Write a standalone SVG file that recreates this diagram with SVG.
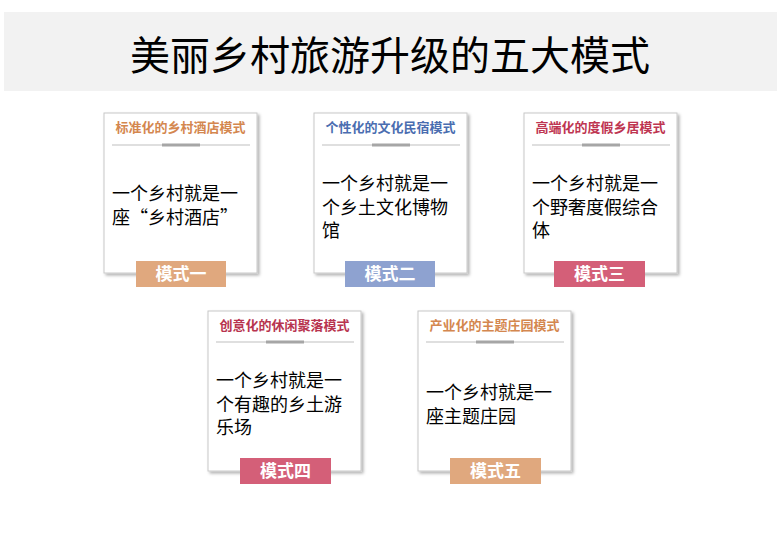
<svg xmlns="http://www.w3.org/2000/svg" width="779" height="540" viewBox="0 0 779 540">
<defs>
<filter id="sh" x="-10%" y="-10%" width="125%" height="125%">
<feDropShadow dx="2" dy="2" stdDeviation="1.5" flood-color="#000" flood-opacity="0.3"/>
</filter>
<style>
.card{fill:#fff;stroke:#C8C8C8;stroke-width:1;filter:url(#sh)}
.hd{font-family:"Noto Sans CJK SC","Noto Sans",sans-serif;font-size:13px;font-weight:bold;text-anchor:middle}
.sep{stroke:#BFBFBF;stroke-width:1}
.bar{fill:#A6A6A6}
.body{font-family:"Noto Sans CJK SC","Noto Sans",sans-serif;font-size:18px;fill:#000}
.bt{font-family:"Noto Sans CJK SC","Noto Sans",sans-serif;font-size:17px;font-weight:bold;fill:#fff;text-anchor:middle}
.title{font-family:"Noto Sans CJK SC","Noto Sans",sans-serif;font-size:40px;fill:#000;text-anchor:middle}
</style>
</defs>
<rect x="4" y="12" width="773" height="79" fill="#F2F2F2"/>
<text class="title" x="390" y="70">美丽乡村旅游升级的五大模式</text>
<g id="connectors"></g>
<g id="card1">
<rect class="card" x="104" y="113" width="153" height="160"/>
<text class="hd" x="180.5" y="132" fill="#D4874F">标准化的乡村酒店模式</text>
<line class="sep" x1="112" y1="145" x2="250" y2="145"/>
<rect class="bar" x="162" y="143.5" width="38" height="3"/>
<text class="body" x="112"><tspan x="112" y="200">一个乡村就是一</tspan><tspan x="112" y="224">座“乡村酒店”</tspan></text>
<rect x="136" y="261" width="90" height="26" fill="#E0A87E"/>
<text class="bt" x="181" y="280">模式一</text>
</g>
<g id="card2">
<rect class="card" x="314" y="113" width="153" height="160"/>
<text class="hd" x="390.5" y="132" fill="#4A6DB0">个性化的文化民宿模式</text>
<line class="sep" x1="322" y1="145" x2="460" y2="145"/>
<rect class="bar" x="372" y="143.5" width="38" height="3"/>
<text class="body"><tspan x="322" y="190">一个乡村就是一</tspan><tspan x="322" y="213.5">个乡土文化博物</tspan><tspan x="322" y="237">馆</tspan></text>
<rect x="345" y="261" width="90" height="26" fill="#8EA2D0"/>
<text class="bt" x="390" y="280">模式二</text>
</g>
<g id="card3">
<rect class="card" x="524" y="113" width="153" height="160"/>
<text class="hd" x="600.5" y="132" fill="#BE3551">高端化的度假乡居模式</text>
<line class="sep" x1="532" y1="145" x2="670" y2="145"/>
<rect class="bar" x="582" y="143.5" width="38" height="3"/>
<text class="body"><tspan x="532" y="190">一个乡村就是一</tspan><tspan x="532" y="213.5">个野奢度假综合</tspan><tspan x="532" y="237">体</tspan></text>
<rect x="554" y="261" width="91" height="26" fill="#D45F78"/>
<text class="bt" x="599.5" y="280">模式三</text>
</g>
<g id="card4">
<rect class="card" x="208" y="311" width="153" height="160"/>
<text class="hd" x="284.5" y="330" fill="#B8344F">创意化的休闲聚落模式</text>
<line class="sep" x1="216" y1="342" x2="354" y2="342"/>
<rect class="bar" x="266" y="340.5" width="38" height="3"/>
<text class="body"><tspan x="216" y="387">一个乡村就是一</tspan><tspan x="216" y="410.5">个有趣的乡土游</tspan><tspan x="216" y="434">乐场</tspan></text>
<rect x="240" y="458" width="91" height="26" fill="#D45F78"/>
<text class="bt" x="285.5" y="477">模式四</text>
</g>
<g id="card5">
<rect class="card" x="418" y="311" width="153" height="160"/>
<text class="hd" x="494.5" y="330" fill="#D4874F">产业化的主题庄园模式</text>
<line class="sep" x1="426" y1="342" x2="564" y2="342"/>
<rect class="bar" x="476" y="340.5" width="38" height="3"/>
<text class="body"><tspan x="426" y="399">一个乡村就是一</tspan><tspan x="426" y="422.5">座主题庄园</tspan></text>
<rect x="450" y="458" width="91" height="26" fill="#E0A87E"/>
<text class="bt" x="495.5" y="477">模式五</text>
</g>
</svg>
